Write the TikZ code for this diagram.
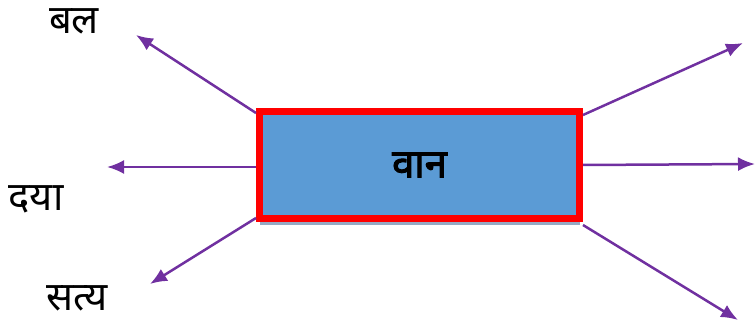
\documentclass[tikz,border=0pt]{standalone}
\usepackage{fontspec}
\newfontfamily\devfont[Script=Devanagari]{Noto Sans}
\newfontfamily\devbold[Script=Devanagari,FakeBold=2.5]{Noto Sans}
\usetikzlibrary{math}
\usetikzlibrary{arrows.meta,shadows,positioning}
\usepackage{xcolor}
\definecolor{boxblue}{RGB}{91,155,213}
\definecolor{arrowpurple}{RGB}{112,48,160}
\definecolor{shadowgray}{RGB}{150,170,196}

\begin{document}
\begin{tikzpicture}[x=1pt,y=1pt]

\tikzmath{
	\W = 320;
	\H = 107;
}

\tikzset{main box/.style={
    draw=red, fill=boxblue, line width=7pt,
    minimum width=\W pt, minimum height=\H pt,
    inner sep=0pt,
    font=\devbold\fontsize{40}{46}\selectfont,
    drop shadow={shadow xshift=0pt, shadow yshift=-6.5pt, fill=shadowgray, opacity=1}
  },
  out arrow/.style={draw=arrowpurple, line width=2.5pt,
    -{Latex[length=17pt,width=14pt]}},
  word/.style={font=\devfont\fontsize{40}{46}\selectfont, inner sep=0pt}
}

\useasboundingbox (0,0) rectangle (755,327);

\node[main box] (daan) at (419.5,162) {वान};

% words on the left
\node[word] (bal) at (74,306) {बल};
\node[word] (daya) at (36,128) {दया};
\node[word] (satya) at (77,29) {सत्य};

% free ends of the arrows
\coordinate (tl) at (136,292);
\coordinate (l) at (107,160);
\coordinate (bl) at (150,43);
\coordinate (tr) at (743,284);
\coordinate (r) at (755,163);
\coordinate (br) at (738,7);

\draw[out arrow] ([yshift=-5pt]daan.north west) -- (tl);
\draw[out arrow] ([yshift=-2pt]daan.west) -- (l);
\draw[out arrow] ([yshift=4pt]daan.south west) -- (bl);
\draw[out arrow] ([yshift=-7pt]daan.north east) -- (tr);
\draw[out arrow] (daan.east) -- (r);
\draw[out arrow] ([yshift=-3pt]daan.south east) -- (br);

\end{tikzpicture}
\end{document}
